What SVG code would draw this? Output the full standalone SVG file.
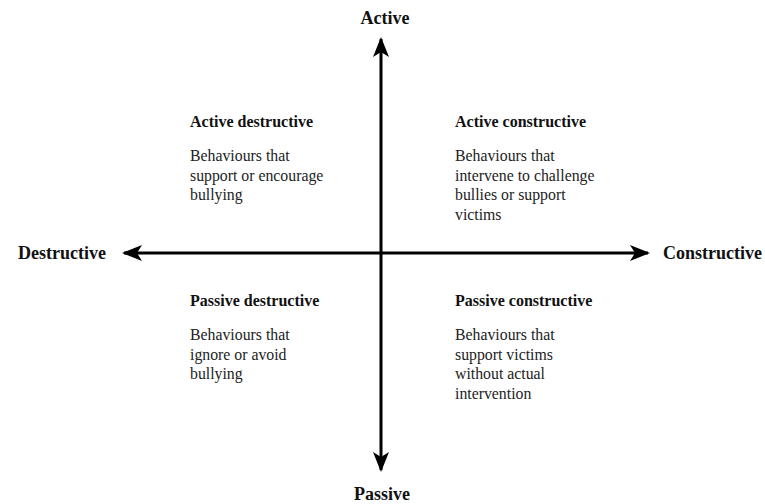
<svg xmlns="http://www.w3.org/2000/svg" width="765" height="504" viewBox="0 0 765 504">
<defs>
<style>
.ax{font-family:"Liberation Serif","Times New Roman",serif;font-weight:bold;font-size:18px;fill:#111}
.t{font-family:"Liberation Serif","Times New Roman",serif;font-weight:bold;font-size:16px;fill:#111}
.b{font-family:"Liberation Serif","Times New Roman",serif;font-size:15.8px;fill:#222}
.line{stroke:#000;stroke-width:3;fill:none}
</style>
<marker id="ah" viewBox="0 0 20 16" refX="18" refY="8" markerWidth="20" markerHeight="16" markerUnits="userSpaceOnUse" orient="auto-start-reverse">
<path d="M0,0 L20,8 L0,16 L5,8 Z" fill="#000"/>
</marker>
</defs>
<rect width="765" height="504" fill="#fff"/>
<g id="connectors">
<line class="line" x1="381" y1="470" x2="381" y2="39" marker-end="url(#ah)" marker-start="url(#ah)"/>
<line class="line" x1="124" y1="253" x2="648" y2="253" marker-end="url(#ah)" marker-start="url(#ah)"/>
</g>
<g id="active"><text class="ax" x="385" y="24" text-anchor="middle">Active</text></g>
<g id="passive"><text class="ax" x="382" y="500" text-anchor="middle">Passive</text></g>
<g id="destructive"><text class="ax" x="18" y="259">Destructive</text></g>
<g id="constructive"><text class="ax" x="663" y="259">Constructive</text></g>
<g id="active-destructive">
<text class="t" x="190" y="127">Active destructive</text>
<text class="b" x="190" y="161">Behaviours that</text>
<text class="b" x="190" y="180.5">support or encourage</text>
<text class="b" x="190" y="200">bullying</text>
</g>
<g id="active-constructive">
<text class="t" x="455" y="127">Active constructive</text>
<text class="b" x="455" y="161">Behaviours that</text>
<text class="b" x="455" y="180.5">intervene to challenge</text>
<text class="b" x="455" y="200">bullies or support</text>
<text class="b" x="455" y="219.5">victims</text>
</g>
<g id="passive-destructive">
<text class="t" x="190" y="306">Passive destructive</text>
<text class="b" x="190" y="340">Behaviours that</text>
<text class="b" x="190" y="359.5">ignore or avoid</text>
<text class="b" x="190" y="379">bullying</text>
</g>
<g id="passive-constructive">
<text class="t" x="455" y="306">Passive constructive</text>
<text class="b" x="455" y="340">Behaviours that</text>
<text class="b" x="455" y="359.5">support victims</text>
<text class="b" x="455" y="379">without actual</text>
<text class="b" x="455" y="398.5">intervention</text>
</g>
</svg>
